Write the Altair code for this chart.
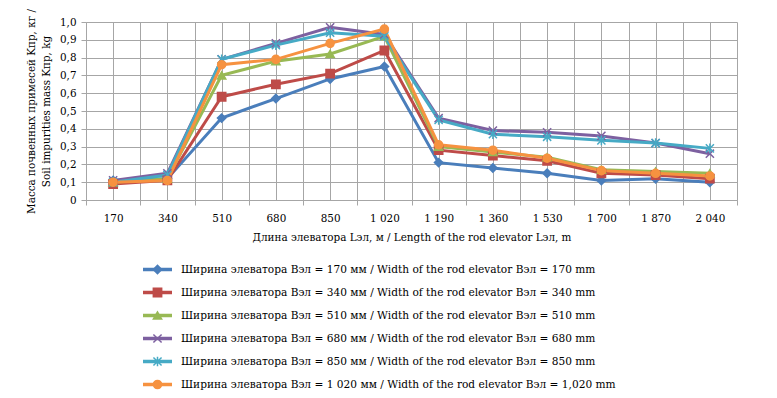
import altair as alt
import pandas as pd

lengths = ["170", "340", "510", "680", "850", "1 020", "1 190", "1 360", "1 530", "1 700", "1 870", "2 040"]

series_names = [
    "Ширина элеватора Bэл = 170 мм / Width of the rod elevator Bэл = 170 mm",
    "Ширина элеватора Bэл = 340 мм / Width of the rod elevator Bэл = 340 mm",
    "Ширина элеватора Bэл = 510 мм / Width of the rod elevator Bэл = 510 mm",
    "Ширина элеватора Bэл = 680 мм / Width of the rod elevator Bэл = 680 mm",
    "Ширина элеватора Bэл = 850 мм / Width of the rod elevator Bэл = 850 mm",
    "Ширина элеватора Bэл = 1 020 мм / Width of the rod elevator Bэл = 1,020 mm",
]

w170 = [0.11, 0.12, 0.46, 0.57, 0.68, 0.75, 0.21, 0.18, 0.15, 0.11, 0.12, 0.10]
w340 = [0.09, 0.11, 0.58, 0.65, 0.71, 0.84, 0.28, 0.25, 0.22, 0.15, 0.14, 0.12]
w510 = [0.10, 0.12, 0.70, 0.78, 0.82, 0.92, 0.30, 0.27, 0.24, 0.17, 0.16, 0.15]
w680 = [0.11, 0.15, 0.79, 0.88, 0.97, 0.93, 0.46, 0.39, 0.38, 0.36, 0.32, 0.26]
w850 = [0.10, 0.14, 0.79, 0.87, 0.94, 0.92, 0.45, 0.37, 0.355, 0.335, 0.32, 0.29]
w1020 = [0.10, 0.11, 0.76, 0.79, 0.88, 0.96, 0.31, 0.28, 0.235, 0.165, 0.15, 0.135]

all_values = [w170, w340, w510, w680, w850, w1020]

colors = ["#4A7EBB", "#BE4B48", "#98B954", "#7D60A0", "#46AAC5", "#F69240"]
x_path = "M-1,-1L1,1M-1,1L1,-1"
star_path = "M-1,-1L1,1M-1,1L1,-1M0,-1.2L0,1.2"
shapes = ["diamond", "square", "triangle-up", x_path, star_path, "circle"]
sizes = [70, 65, 70, 45, 50, 100]

rows = []
for s, vals in zip(series_names, all_values):
    for i, (L, v) in enumerate(zip(lengths, vals)):
        rows.append({"series": s, "idx": i, "length": L, "value": v})
df = pd.DataFrame(rows)

legend_df = pd.DataFrame({"series": series_names})

FONT = "DejaVu Serif"
FS = 10.4
GRID = "#A6A6A6"

label_arr = "[" + ",".join("'" + l + "'" for l in lengths) + "]"
x_label_expr = f"datum.value % 1 === 0 ? {label_arr}[datum.value] : ''"

color_scale = alt.Scale(domain=series_names, range=colors)
shape_scale = alt.Scale(domain=series_names, range=shapes)
size_scale = alt.Scale(domain=series_names, range=sizes)

x_enc = alt.X(
    "idx:Q",
    scale=alt.Scale(domain=[-0.5, 11.5], nice=False, zero=False),
    axis=alt.Axis(
        values=[k * 0.5 for k in range(-1, 24)],
        labelExpr=x_label_expr,
        labelOverlap=False,
        labelFlush=False,
        grid=True,
        gridColor=GRID,
        gridWidth=1,
        domainColor=GRID,
        tickColor=GRID,
        tickSize=5,
        tickOpacity={"condition": {"test": "datum.value % 1 === 0", "value": 0}, "value": 1},
        labelFont=FONT,
        labelFontSize=FS,
        labelColor="black",
        labelPadding=8,
        title="Длина элеватора Lэл, м / Length of the rod elevator Lэл, m",
        titleFont=FONT,
        titleFontSize=FS,
        titleFontWeight="normal",
        titleColor="black",
        titlePadding=9,
    ),
)

y_enc = alt.Y(
    "value:Q",
    scale=alt.Scale(domain=[0, 1], nice=False),
    axis=alt.Axis(
        values=[k / 10 for k in range(11)],
        labelExpr="datum.value == 0 ? '0' : replace(format(datum.value, '.1f'), '.', ',')",
        grid=True,
        gridColor=GRID,
        domainColor=GRID,
        tickColor=GRID,
        tickSize=5,
        labelFont=FONT,
        labelFontSize=FS,
        labelColor="black",
        labelPadding=5,
        title=["Масса почвенных примесей Kпр, кг /", "Soil impurities mass Kпр, kg"],
        titleFont=FONT,
        titleFontSize=FS,
        titleFontWeight="normal",
        titleColor="black",
        titlePadding=8,
        titleLineHeight=15,
    ),
)

base = alt.Chart(df).encode(x=x_enc, y=y_enc)

lines = base.mark_line(strokeWidth=3).encode(
    color=alt.Color("series:N", scale=color_scale, legend=None),
    detail="series:N",
)

points = base.mark_point(filled=True, opacity=1, strokeWidth=1.5).encode(
    fill=alt.Fill("series:N", scale=color_scale, legend=None),
    stroke=alt.Stroke("series:N", scale=color_scale, legend=None),
    shape=alt.Shape("series:N", scale=shape_scale, legend=None),
    size=alt.Size("series:N", scale=size_scale, legend=None),
)

top = alt.layer(lines, points).properties(width=651, height=178)

ly = alt.Y("series:N", sort=series_names, axis=None)

leg_lines = alt.Chart(legend_df).mark_rule(strokeWidth=3.5).encode(
    x=alt.value(57), x2=alt.value(86), y=ly,
    color=alt.Color("series:N", scale=color_scale, legend=None),
)
leg_points = alt.Chart(legend_df).mark_point(filled=True, opacity=1, strokeWidth=1.5).encode(
    x=alt.value(71.5), y=ly,
    fill=alt.Fill("series:N", scale=color_scale, legend=None),
    stroke=alt.Stroke("series:N", scale=color_scale, legend=None),
    shape=alt.Shape("series:N", scale=shape_scale, legend=None),
    size=alt.Size("series:N", scale=size_scale, legend=None),
)
leg_text = alt.Chart(legend_df).mark_text(
    align="left", baseline="middle", font=FONT, fontSize=10.6, color="black"
).encode(x=alt.value(95), y=ly, text="series:N")

legend = alt.layer(leg_lines, leg_points, leg_text).properties(width=651, height=138)

chart = alt.vconcat(top, legend, spacing=15).properties(
    padding={"left": 18, "top": 0, "right": 5, "bottom": 0}
).configure_view(stroke=None)

chart.save("out.html", embed_options={"renderer": "svg", "actions": False})
